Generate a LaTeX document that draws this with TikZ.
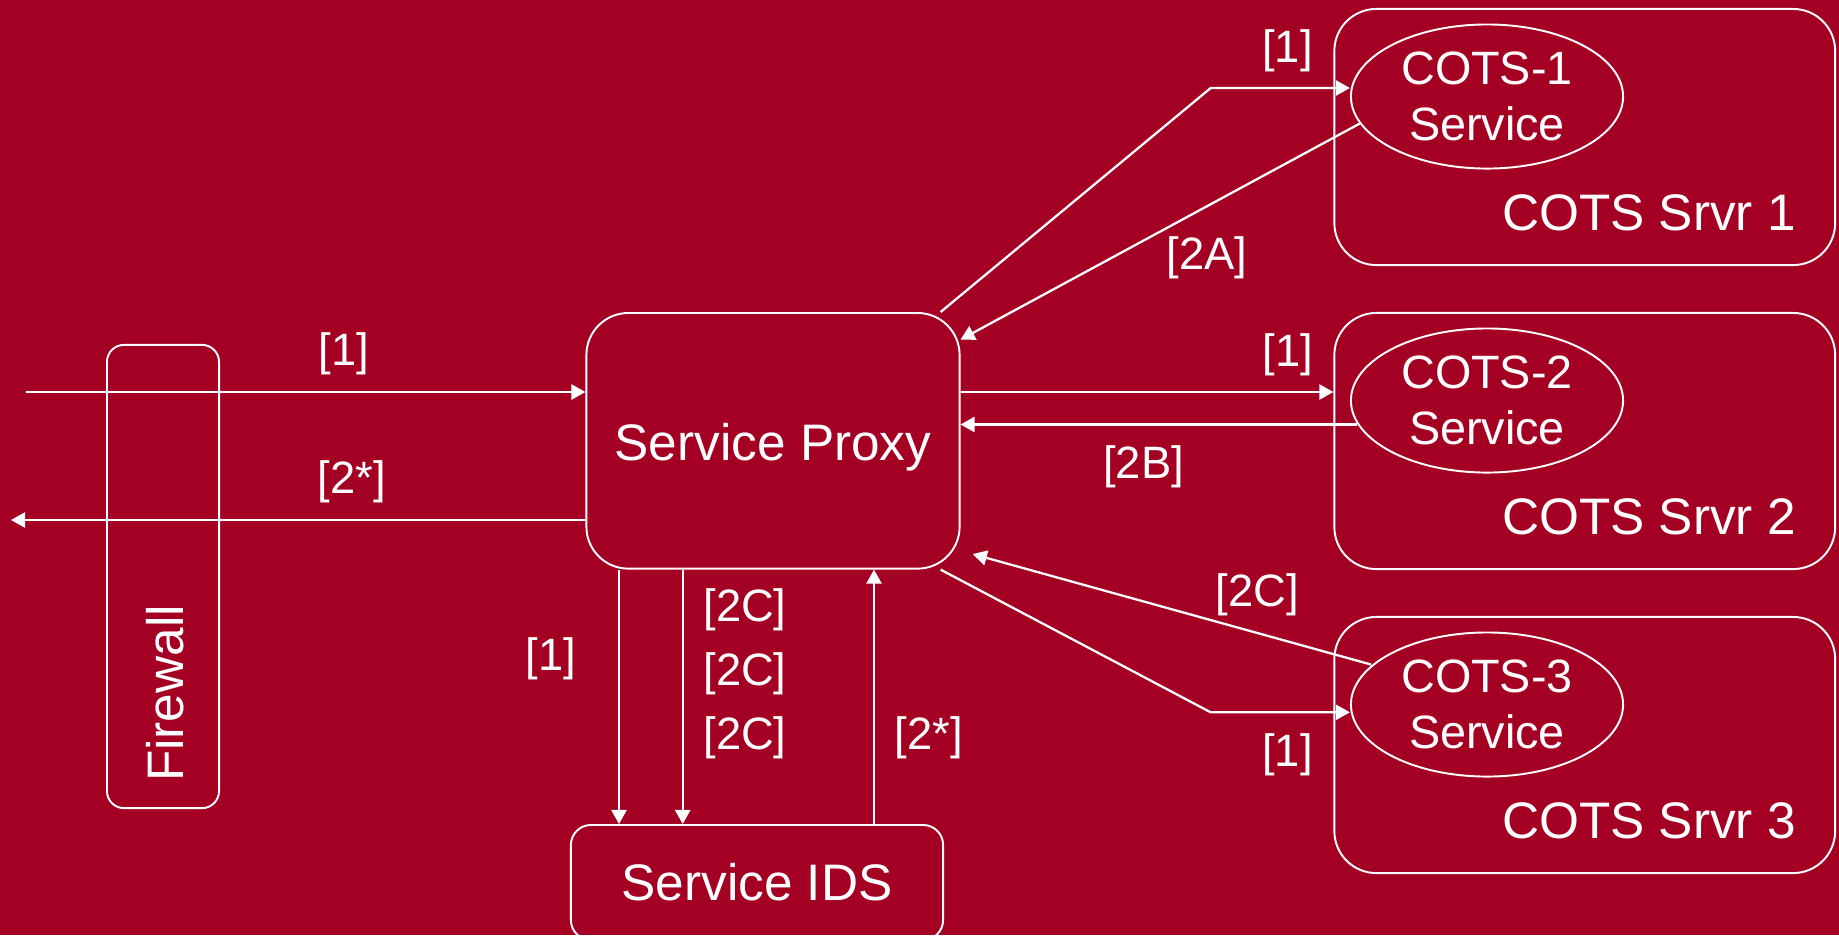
\documentclass[tikz,border=0pt]{standalone}
\usepackage{fontspec}
\setmainfont{Liberation Sans}
\usetikzlibrary{arrows.meta,shapes.geometric,calc}
\definecolor{bgred}{RGB}{164,0,35}
\begin{document}
\begin{tikzpicture}[x=0.01cm,y=-0.01cm,
  box/.style={draw=white, line width=0.55pt, rounded corners=#1, inner sep=0pt},
  big/.style={text=white, font=\fontsize{14.6}{17}\selectfont, inner sep=0pt},
  lbl/.style={text=white, font=\fontsize{12.9}{15}\selectfont, inner sep=0pt},
  ell/.style={draw=white, line width=0.55pt, ellipse, inner sep=0pt,
    minimum width=2.72cm, minimum height=1.44cm, text=white,
    font=\fontsize{13.3}{16}\selectfont, align=center},
  arr/.style={draw=white, line width=0.65pt, -{Triangle[length=4pt,width=4.3pt]}}
]
\fill[bgred] (0,0) rectangle (1839,935);
\useasboundingbox (0,0) rectangle (1839,935);

% firewall
\node[box=0.17cm, minimum width=1.12cm, minimum height=4.63cm] (fw) at (163,576.5) {};
\node[big, rotate=90, anchor=base] (fwt) at (183,693.5) {Firewall};

% proxy
\node[box=0.42cm, minimum width=3.73cm, minimum height=2.555cm] (proxy) at (773,440.8) {};
\node[big, anchor=base] (proxyt) at (773,460) {Service Proxy};

% IDS
\node[box=0.2cm, minimum width=3.72cm, minimum height=1.15cm] (ids) at (757,882.5) {};
\node[big, anchor=base] (idst) at (757,900) {Service IDS};

% servers
\node[box=0.42cm, minimum width=5.005cm, minimum height=2.56cm] (s1) at (1584.75,137) {};
\node[box=0.42cm, minimum width=5.005cm, minimum height=2.56cm] (s2) at (1584.75,441) {};
\node[box=0.42cm, minimum width=5.005cm, minimum height=2.56cm] (s3) at (1584.75,745) {};
\node[big, anchor=base] (s1t) at (1649,230) {COTS Srvr 1};
\node[big, anchor=base] (s2t) at (1649,534) {COTS Srvr 2};
\node[big, anchor=base] (s3t) at (1649,838) {COTS Srvr 3};

\node[ell] (e1) at (1487,96.5) {COTS-1\\Service};
\node[ell] (e2) at (1487,400.5) {COTS-2\\Service};
\node[ell] (e3) at (1487,704.5) {COTS-3\\Service};

% labels
\node[lbl] (l1a) at (344,354) {[1]};
\node[lbl] (l2a) at (352,482) {[2*]};
\node[lbl] (l1b) at (551,659) {[1]};
\node[lbl] (l2c1) at (745,610) {[2C]};
\node[lbl] (l2c2) at (745,674) {[2C]};
\node[lbl] (l2c3) at (745,738) {[2C]};
\node[lbl] (l2s) at (929,738) {[2*]};
\node[lbl] (l1c) at (1287.5,50.5) {[1]};
\node[lbl] (l2A) at (1207,258) {[2A]};
\node[lbl] (l1d) at (1287.6,355) {[1]};
\node[lbl] (l2B) at (1143.5,466.5) {[2B]};
\node[lbl] (l2Cr) at (1257,594.5) {[2C]};
\node[lbl] (l1e) at (1287.5,754.5) {[1]};

% coordinates
\coordinate (inL) at (26,392);
\coordinate (outL) at (11,520);
\coordinate (b1) at (1210.7,88);
\coordinate (b3) at (1210.7,712.3);
\coordinate (xd1) at (619,0);
\coordinate (xd2) at (682.7,0);
\coordinate (xu) at (874,0);
\coordinate (c2B) at ($(e2.center)+(-130,24)$);
\coordinate (c2Cs) at ($(e3.center)+(-116,-40)$);
\coordinate (c2Ce) at ($(proxy.south east)+(12.2,-15.5)$);
\coordinate (p1s) at ($(proxy.north east)+(-20,0)$);
\coordinate (p3s) at ($(proxy.south east)+(-20,0)$);

% connectors
\draw[arr] (inL) -- (inL -| proxy.west);
\draw[arr] (outL -| proxy.west) -- (outL);
\draw[arr] (p1s) -- (b1) -- (b1 -| e1.west);
\draw[arr] (e1.192) -- (proxy);
\draw[arr] (inL -| proxy.east) -- (inL -| s2.west);
\draw[arr] (c2B) -- (c2B -| proxy.east);
\draw[arr] (p3s) -- (b3) -- (b3 -| e3.west);
\draw[arr] (c2Cs) -- (c2Ce);
\draw[arr] (xd1 |- proxy.south) -- (xd1 |- ids.north);
\draw[arr] (xd2 |- proxy.south) -- (xd2 |- ids.north);
\draw[arr] (xu |- ids.north) -- (xu |- proxy.south);
\end{tikzpicture}
\end{document}
